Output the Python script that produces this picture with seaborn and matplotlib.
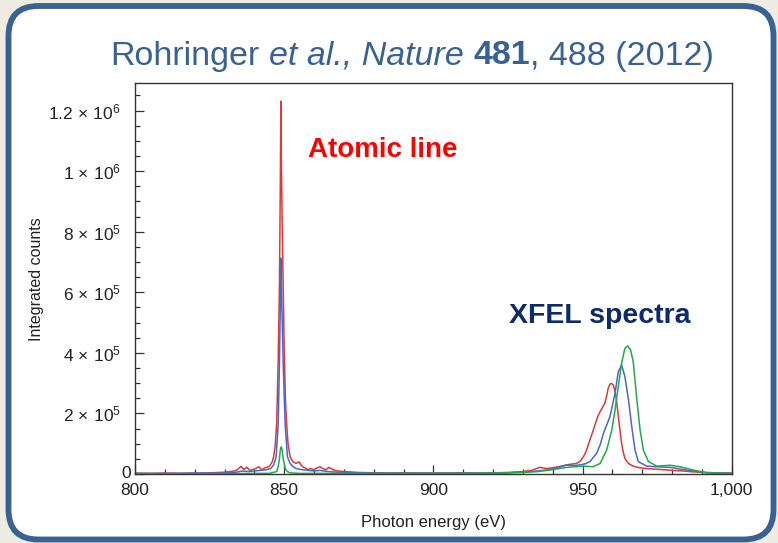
import matplotlib
matplotlib.use("Agg")
import matplotlib.pyplot as plt
import matplotlib.transforms as mtransforms
from matplotlib.patches import FancyBboxPatch
from matplotlib.ticker import MultipleLocator, FixedLocator, FixedFormatter
import numpy as np
import pandas as pd
import seaborn as sns

# ---- spectra: photon energy (eV) and integrated counts ----
red_energy = [800, 805, 810, 815, 820, 825, 828, 830, 832, 834, 835.5, 836.5, 837.5,
              838.5, 840, 841.5, 842.5, 843.5, 845, 846, 846.5, 847, 847.5, 848, 848.4,
              848.7, 848.9, 849.1, 849.4, 849.7, 850.0, 850.4, 850.8, 851.3, 852, 853,
              854, 855, 856, 857, 858, 859, 860, 861, 862, 863, 864, 865, 866, 867, 868,
              870, 875, 880, 885, 890, 895, 900, 905, 910, 915, 920, 925, 930, 933,
              935.7, 938, 940.2, 942.5, 944.7, 946.5, 948.0, 949.2, 950.3, 951.2, 951.9,
              952.8, 953.6, 954.5, 955.2, 955.9, 956.7, 957.5, 958.1, 958.6, 959.1,
              959.5, 960.0, 960.3, 960.8, 961.2, 961.6, 962.0, 962.6, 963.1, 963.7,
              964.2, 964.8, 965.4, 966.2, 967.0, 968.5, 970.4, 973, 976, 980, 983.8,
              987, 991.6, 995, 1000]
red_counts = [3e3, 2e3, 3e3, 2e3, 3e3, 4e3, 5e3, 6e3, 8e3, 12e3, 25e3, 15e3, 22e3,
              12e3, 16e3, 24e3, 14e3, 20e3, 25e3, 40e3, 58e3, 95e3, 170e3, 380e3, 610e3,
              950e3, 1231e3, 1000e3, 780e3, 600e3, 420e3, 250e3, 167e3, 100e3, 56e3, 40e3,
              35e3, 40e3, 25e3, 20e3, 15e3, 18e3, 14e3, 20e3, 24e3, 18e3, 14e3, 22e3,
              16e3, 12e3, 10e3,
              8e3, 5e3, 4e3, 3e3, 4e3, 3e3, 3e3, 3e3, 4e3, 3e3, 4e3, 5e3, 8e3, 12e3,
              22e3, 18e3, 21e3, 25e3, 30e3, 33e3, 35e3, 42e3, 57e3, 75e3, 96e3,
              122e3, 145e3, 172e3, 192e3, 206e3, 220e3, 234e3, 258e3, 283e3, 295e3,
              299e3, 297e3, 294e3, 278e3, 256e3, 225e3, 190e3, 140e3, 101e3, 70e3,
              52e3, 42e3, 35e3, 30e3, 26e3, 22e3, 19e3, 17e3, 15e3, 12e3, 10e3,
              7e3, 5e3, 4e3, 3e3]

blue_energy = [800, 810, 820, 830, 834, 836, 838, 840, 842, 844, 845.5, 846.5, 847.3,
               848.0, 848.4, 848.7, 848.9, 849.2, 849.7, 850.3, 851.1, 852, 853, 854,
               856, 858, 860, 862, 864, 866, 870, 880, 890, 900, 910, 920, 925, 930,
               935, 939.1, 942, 944.7, 947, 949.2, 951, 952.5, 954.7, 955.9, 957.0,
               958.1, 959.2, 960.0, 960.9, 962.0, 963.1, 964.2, 965.4, 966.5, 967.6,
               968.7, 971.5, 975, 979.3, 984.9, 991.6, 1000]
blue_counts = [2e3, 2e3, 3e3, 3e3, 6e3, 10e3, 8e3, 10e3, 12e3, 14e3, 18e3, 30e3, 56e3,
               167e3, 357e3, 560e3, 713e3, 560e3, 357e3, 167e3, 56e3, 35e3, 24e3, 18e3,
               14e3, 12e3, 10e3, 12e3, 9e3, 7e3, 5e3, 3e3, 3e3, 3e3, 3e3, 3e3, 4e3, 6e3,
               10e3, 15e3, 22e3, 30e3, 28e3, 30e3, 34e3, 41e3, 68e3, 96e3, 134e3,
               162e3, 190e3, 225e3, 267e3, 338e3, 360e3, 322e3, 245e3, 156e3, 79e3,
               41e3, 26e3, 24e3, 22e3, 13e3, 4e3, 2e3]

green_energy = [800, 810, 820, 830, 840, 845, 847.5, 848.0, 848.4, 848.7, 849.0, 849.3,
                849.6, 849.9, 850.3, 851, 852, 855, 860, 870, 880, 890, 900, 910, 920,
                930, 935, 939.1, 944.7, 950.3, 953.6, 955.9, 958.1, 959.8, 960.9, 962.0,
                963.1, 964.2, 965.1, 966.1, 967.0, 968.1, 969.3, 970.4, 972.1, 974.9,
                979.3, 982.7, 987.1, 991.6, 1000]
green_counts = [1e3, 1e3, 1e3, 1e3, 2e3, 2e3, 8e3, 25e3, 50e3, 80e3, 90e3, 80e3,
                55e3, 40e3, 20e3, 8e3, 4e3, 2e3, 2e3, 2e3, 2e3, 2e3, 2e3, 2e3, 3e3,
                5e3, 8e3, 13e3, 22e3, 26e3, 24e3, 35e3, 79e3, 145e3, 212e3, 289e3,
                366e3, 415e3, 423e3, 410e3, 371e3, 256e3, 145e3, 79e3, 41e3, 26e3,
                29e3, 24e3, 13e3, 4e3, 2e3]

x_ticks = [800, 850, 900, 950, 1000]
x_tick_labels = ["800", "850", "900", "950", "1,000"]
y_ticks = [0, 2e5, 4e5, 6e5, 8e5, 1e6, 1.2e6]
y_tick_labels = ["0", r"$2\,\times\,10^{5}$", r"$4\,\times\,10^{5}$",
                 r"$6\,\times\,10^{5}$", r"$8\,\times\,10^{5}$",
                 r"$1\,\times\,10^{6}$", r"$1.2\,\times\,10^{6}$"]

series_colors = {"red": "#dc3a36", "blue": "#4a68c8", "green": "#25a84a"}

title_parts = [("Rohringer", "normal", "normal"),
               ("et al., Nature", "italic", "normal"),
               ("481", "normal", "bold"),
               (", 488 (2012)", "normal", "normal")]

df = pd.concat([
    pd.DataFrame({"energy": red_energy, "counts": red_counts, "shot": "red"}),
    pd.DataFrame({"energy": blue_energy, "counts": blue_counts, "shot": "blue"}),
    pd.DataFrame({"energy": green_energy, "counts": green_counts, "shot": "green"}),
], ignore_index=True)

sns.set_theme(style="ticks")
plt.rcParams["font.family"] = ["Liberation Sans", "DejaVu Sans"]
plt.rcParams["mathtext.fontset"] = "custom"
plt.rcParams["mathtext.rm"] = "Liberation Sans"
plt.rcParams["mathtext.it"] = "Liberation Sans:italic"
plt.rcParams["mathtext.bf"] = "Liberation Sans:bold"

W, H, DPI = 778, 543, 100
fig = plt.figure(figsize=(W / DPI, H / DPI), dpi=DPI)
fig.patch.set_facecolor("#efece2")

# rounded white panel with blue frame (inch coordinates so corners stay circular)
panel = FancyBboxPatch((8.5 / DPI, 3.5 / DPI), (773.5 - 8.5) / DPI, (537 - 3.5) / DPI,
                       boxstyle="round,pad=0,rounding_size=0.30",
                       transform=fig.dpi_scale_trans, facecolor="white",
                       edgecolor="#3a6193", linewidth=4.2, zorder=-10)
fig.patches.append(panel)

ax = fig.add_axes([135 / W, 1 - 474 / H, (731.7 - 135) / W, (474 - 83.3) / H])
ax.set_facecolor("white")

sns.lineplot(data=df, x="energy", y="counts", hue="shot", palette=series_colors,
             estimator=None, legend=False, linewidth=1.1, ax=ax)

ax.set_xlim(800, 1000)
ax.set_ylim(0, 1.29e6)

# the zero label sits closer to the axis than the power-of-ten labels
y_labels_drawn = [""] + y_tick_labels[1:]
ax.xaxis.set_major_locator(FixedLocator(x_ticks))
ax.xaxis.set_major_formatter(FixedFormatter(x_tick_labels))
ax.xaxis.set_minor_locator(MultipleLocator(10))
ax.yaxis.set_major_locator(FixedLocator(y_ticks))
ax.yaxis.set_major_formatter(FixedFormatter(y_labels_drawn))
ax.yaxis.set_minor_locator(MultipleLocator(5e4))
zero_tf = mtransforms.blended_transform_factory(ax.transAxes, ax.transData)
ax.text(-0.006, y_ticks[0], y_tick_labels[0], transform=zero_tf, ha="right",
        va="center", fontsize=12.5, color="#222222")

ax.tick_params(which="both", direction="in", colors="#333333", labelcolor="#222222",
               labelsize=12.5, width=0.9)
ax.tick_params(which="major", length=6.5)
ax.tick_params(which="minor", length=3.5)
ax.tick_params(axis="x", which="major", pad=6.5)
ax.tick_params(axis="y", which="major", pad=10)
for s in ax.spines.values():
    s.set_visible(True)
    s.set_color("#333333")
    s.set_linewidth(1.0)

ax.set_xlabel("Photon energy (eV)", fontsize=12, color="#222222", labelpad=12)
ax.set_ylabel("Integrated counts", fontsize=11.5, color="#222222", labelpad=3)

ax.text(383 / W, 1 - 150 / H, "Atomic line", transform=fig.transFigure,
        color="#ff0000", fontsize=20, fontweight="bold", ha="center", va="center")
ax.text(509 / W, 1 - 316 / H, "XFEL spectra", transform=fig.transFigure,
        color="#0c2a6c", fontsize=20.5, fontweight="bold", ha="left", va="center")

# title built from differently styled runs laid out side by side
title_size = 24.5
title_color = "#3a6193"
renderer = fig.canvas.get_renderer()
probe = fig.text(0, 0, "x x", fontsize=title_size)
probe2 = fig.text(0, 0, "xx", fontsize=title_size)
space_px = (probe.get_window_extent(renderer).width
            - probe2.get_window_extent(renderer).width)
probe.remove()
probe2.remove()

runs = []
for txt, style, weight in title_parts:
    t = fig.text(0, 1 - 56 / H, txt, fontsize=title_size, style=style,
                 fontweight=weight, color=title_color, ha="left", va="center")
    runs.append(t)
widths = [t.get_window_extent(renderer).width for t in runs]
gaps = [space_px, space_px, 0.0]
total = sum(widths) + sum(gaps)
x_px = 412 - total / 2
for i, t in enumerate(runs):
    t.set_x(x_px / W)
    x_px += widths[i] + (gaps[i] if i < len(gaps) else 0)

fig.savefig("out.png", dpi=DPI, facecolor=fig.get_facecolor())
